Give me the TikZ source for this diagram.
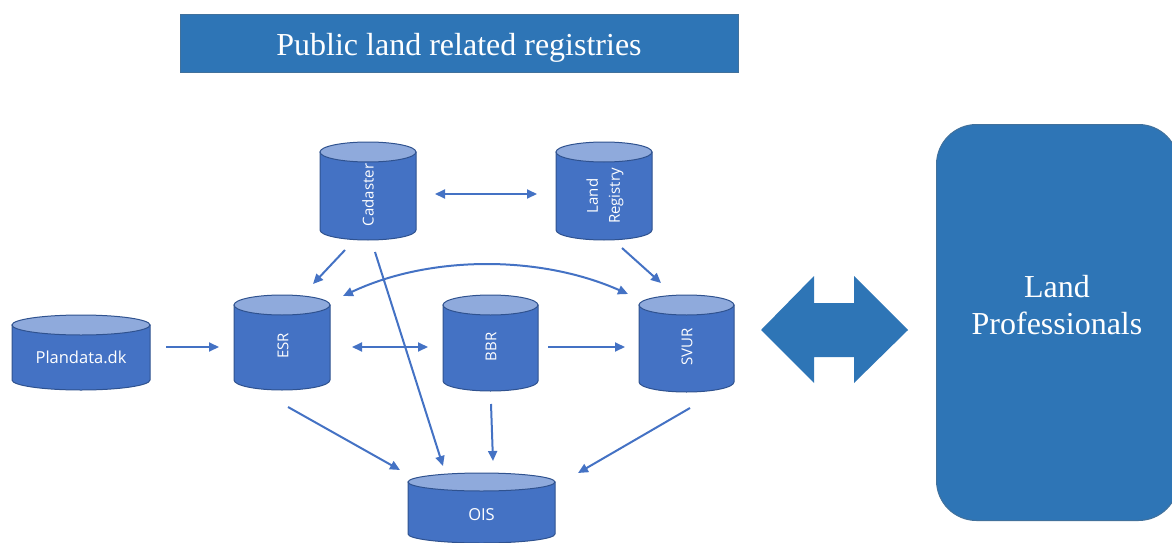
\documentclass[tikz,border=0pt]{standalone}
\usepackage{fontspec}
\setmainfont{Liberation Serif}
\newfontfamily\cylfont{Open Sans}
\usetikzlibrary{arrows.meta,calc}
\definecolor{titleblue}{HTML}{2E75B6}
\definecolor{cylbody}{HTML}{4472C4}
\definecolor{cyltop}{HTML}{8FAADC}
\definecolor{cylline}{HTML}{2F528F}
\definecolor{boxline}{HTML}{41719C}
\definecolor{arrowblue}{HTML}{4472C4}
\tikzset{
  cylshape/.style={fill=cylbody,draw=cylline,line width=1pt},
  cyltopshape/.style={fill=cyltop,draw=cylline,line width=1pt},
  cylbox/.style={inner sep=0pt,outer sep=0pt,draw=none},
  cyltext/.style={text=white,font=\cylfont\fontsize{15}{22}\selectfont,inner sep=0pt},
  cylhtext/.style={text=white,font=\cylfont\fontsize{16.5}{20}\selectfont,inner sep=0pt},
  link/.style={draw=arrowblue,line width=2pt,-{Triangle[length=10pt,width=9pt]}},
  dlink/.style={draw=arrowblue,line width=2pt,{Triangle[length=10pt,width=9pt]}-{Triangle[length=10pt,width=9pt]}},
  titlebox/.style={fill=titleblue,draw=boxline,line width=0.8pt,inner sep=0pt},
  probox/.style={fill=titleblue,draw=boxline,line width=1pt,inner sep=0pt,rounded corners=40pt},
  protext/.style={text=white,font=\fontsize{32}{36.5}\selectfont,align=center,inner sep=0pt},
}
\newcommand{\dbcyl}[6]{%
  \path[cylshape] (#2,#3+#6) -- (#2,#3+#5-#6) arc[start angle=180,end angle=0,x radius=#4/2,y radius=#6] -- (#2+#4,#3+#6) -- cycle;
  \path[cyltopshape] (#2+#4/2,#3+#6) ellipse[x radius=#4/2,y radius=#6];
  \node[cylbox,minimum width=#4,minimum height=#5] (#1) at (#2+#4/2,#3+#5/2) {};
}
\begin{document}
\begin{tikzpicture}[x=1pt,y=-1pt]
\useasboundingbox (0,0) rectangle (1172,543);

% title
\node[titlebox,minimum width=558,minimum height=57,anchor=north west] (title) at (180,14.5) {};
\node[text=white,font=\fontsize{32}{38}\selectfont,inner sep=0pt,anchor=base] (titletext) at (459,55.5) {Public land related registries};

% cylinders
\dbcyl{cad}{320}{142}{96}{98}{10}
\dbcyl{lr}{556}{142}{96}{98}{10}
\dbcyl{pd}{12}{315}{138}{75}{10}
\dbcyl{esr}{234}{295}{96}{95}{10}
\dbcyl{bbr}{443}{295}{95}{96}{10}
\dbcyl{svur}{639}{295}{95}{97}{10}
\dbcyl{ois}{408}{473}{147}{70}{9}

\node[cyltext,rotate=90] (cadtext) at (368,195) {Cadaster};
\node[cyltext,rotate=90,align=center] (lrtext) at (605,196) {Land\\Registry};
\node[cylhtext,anchor=base] (pdtext) at (81,363) {Plandata.dk};
\node[cyltext,rotate=90] (esrtext) at (283,346) {ESR};
\node[cyltext,rotate=90] (bbrtext) at (491,347) {BBR};
\node[cyltext,rotate=90] (svurtext) at (687,347) {SVUR};
\node[cylhtext,anchor=base] (oistext) at (481.5,520) {OIS};

% connectors
\draw[dlink] ($(cad.east)+(19,3)$) -- ($(lr.west)+(-19,3)$);
\draw[link] ($(cad.south)+(-23,10)$) -- ($(esr.north)+(31,-11)$);
\draw[link] ($(cad.south)+(7,12)$) -- ($(ois.north)+(-38.5,-7)$);
\draw[link] ($(lr.south)+(18,8)$) -- ($(svur.north)+(-25.5,-12)$);
\draw[dlink] ($(esr.north)+(61,1)$) .. controls (430,255) and (540,255) .. ($(svur.north)+(-58.5,-1)$);
\draw[link] ($(pd.east)+(16,-5.5)$) -- ($(esr.west)+(-15,4.5)$);
\draw[dlink] ($(esr.east)+(22,4.5)$) -- ($(bbr.west)+(-15,4)$);
\draw[link] ($(bbr.east)+(10,4)$) -- ($(svur.west)+(-14,3.5)$);
\draw[link] ($(esr.south)+(6,17)$) -- ($(ois.north)+(-81.5,-3)$);
\draw[link] ($(bbr.south)+(0.5,13)$) -- ($(ois.north)+(11.5,-12)$);
\draw[link] ($(svur.south)+(3.5,16)$) -- ($(ois.north)+(96.5,0)$);

% big double arrow
\fill[titleblue] (761,330) -- (814,276) -- (814,303) -- (854,303) -- (854,276) -- (908,330) -- (854,383) -- (854,357) -- (814,357) -- (814,383) -- cycle;

% land professionals
\node[probox,minimum width=242,minimum height=396,anchor=north west] (prof) at (936,124) {};
\node[protext] (proftext) at (1057,305) {Land\\Professionals};
\end{tikzpicture}
\end{document}
